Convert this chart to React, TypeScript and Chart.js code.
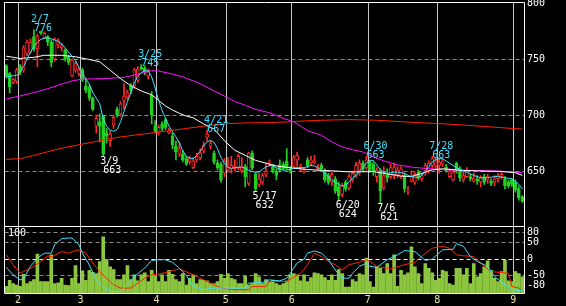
import React, { useEffect, useRef } from 'react';
import { Chart, registerables } from 'chart.js';

Chart.register(...registerables);

// ---- categories: trading days (M/D) ----
const DATES: string[] = [
  '1/26', '1/27', '1/28', '1/31',
  '2/1', '2/2', '2/3', '2/4', '2/7', '2/8', '2/9', '2/10', '2/14', '2/15', '2/16', '2/17', '2/18', '2/21', '2/22', '2/24', '2/25', '2/28',
  '3/1', '3/2', '3/3', '3/4', '3/7', '3/8', '3/9', '3/10', '3/11', '3/14', '3/15', '3/16', '3/17', '3/18', '3/22', '3/23', '3/24', '3/25', '3/28', '3/29', '3/30', '3/31',
  '4/1', '4/4', '4/5', '4/6', '4/7', '4/8', '4/11', '4/12', '4/13', '4/14', '4/15', '4/18', '4/19', '4/20', '4/21', '4/22', '4/25', '4/26', '4/27', '4/28',
  '5/2', '5/6', '5/9', '5/10', '5/11', '5/12', '5/13', '5/16', '5/17', '5/18', '5/19', '5/20', '5/23', '5/24', '5/25', '5/26', '5/27', '5/30', '5/31',
  '6/1', '6/2', '6/3', '6/6', '6/7', '6/8', '6/9', '6/10', '6/13', '6/14', '6/15', '6/16', '6/17', '6/20', '6/21', '6/22', '6/23', '6/24', '6/27', '6/28', '6/29', '6/30',
  '7/1', '7/4', '7/5', '7/6', '7/7', '7/8', '7/11', '7/12', '7/13', '7/14', '7/15', '7/19', '7/20', '7/21', '7/22', '7/25', '7/26', '7/27', '7/28', '7/29',
  '8/1', '8/2', '8/3', '8/4', '8/5', '8/8', '8/9', '8/10', '8/12', '8/15', '8/16', '8/17', '8/18', '8/19', '8/22', '8/23', '8/24', '8/25', '8/26', '8/29', '8/30', '8/31',
  '9/1', '9/2', '9/5',
];

// ---- OHLC ----
const OPEN: number[] = [
  744, 737, 729, 730, 744, 740, 755, 756, 770, 759,
  775, 769, 770, 765, 750, 763, 760, 758, 752, 735,
  740, 737, 740, 726, 725, 715, 690, 694, 699, 684,
  677, 691, 705, 701, 713, 716, 726, 726, 731, 743,
  742, 735, 718, 690, 684, 692, 696, 684, 681, 672,
  665, 665, 661, 658, 653, 660, 662, 668, 680, 672,
  666, 657, 656, 648, 651, 652, 652, 653, 650, 654,
  639, 666, 647, 638, 640, 647, 657, 654, 650, 655,
  656, 659, 652, 654, 660, 652, 650, 660, 657, 657,
  652, 655, 650, 646, 640, 643, 636, 629, 640, 635,
  642, 646, 650, 657, 653, 658, 656, 645, 650, 635,
  647, 645, 646, 647, 645, 646, 632, 641, 640, 649,
  643, 648, 650, 655, 654, 655, 656, 654, 645, 642,
  657, 652, 642, 645, 645, 641, 643, 640, 645, 642,
  641, 640, 643, 645, 643, 640, 642, 640, 634, 627,
];
const HIGH: number[] = [
  745, 738, 733, 742, 745, 762, 767, 768, 776, 772,
  775, 774, 771, 767, 769, 768, 764, 759, 753, 750,
  748, 742, 742, 733, 727, 716, 700, 701, 700, 688,
  686, 700, 707, 712, 728, 722, 728, 742, 743, 745,
  744, 741, 721, 695, 691, 694, 697, 688, 684, 677,
  676, 668, 663, 663, 662, 666, 670, 676, 686.5, 677,
  668, 660, 658, 661, 662, 663, 660, 665, 662, 656,
  667, 668, 649, 648, 648, 657, 660, 656, 652, 660,
  658, 670, 654, 664, 667, 656, 653, 662, 663, 664,
  656, 657, 652, 648, 649, 645, 640, 639, 642, 647,
  650, 658, 660, 659, 663, 660, 658, 653, 652, 654,
  652, 656, 657, 654, 654, 648, 636, 650, 649, 651,
  648, 657, 659, 663, 662, 662, 661, 656, 652, 651,
  658, 654, 649, 653, 647, 648, 646, 646, 647, 647,
  643, 646, 648, 650, 645, 642, 643, 642, 636, 628,
];
const LOW: number[] = [
  733, 720, 728, 728, 736, 738, 753, 755, 757, 743,
  772, 768, 762, 743, 748, 760, 757, 748, 745, 734,
  738, 735, 730, 720, 713, 704, 684, 676, 663, 675,
  672, 688, 698, 699, 705, 714, 719, 724, 729, 740,
  736, 732, 692, 684, 682, 686, 687, 683, 670, 660,
  663, 658, 655, 656, 652, 658, 660, 666, 677, 670,
  656, 651, 640, 645, 649, 648, 650, 651, 648, 636,
  637, 651, 632, 636, 638, 645, 654, 648, 642, 649,
  651, 651, 648, 652, 654, 650, 648, 653, 655, 656,
  650, 650, 640, 638, 637, 630, 624, 627, 632, 633,
  640, 644, 646, 650, 651, 649, 646, 640, 621, 633,
  640, 643, 643, 644, 643, 631, 629, 640, 638, 642,
  641, 646, 648, 652, 652, 648, 654, 649, 644, 641,
  648, 641, 640, 644, 641, 640, 638, 636, 638, 639,
  637, 637, 640, 643, 634, 635, 636, 631, 624, 622,
];
const CLOSE: number[] = [
  735, 725, 732, 740, 738, 760, 765, 765, 759, 770,
  773, 773, 765, 747, 768, 766, 762, 750, 747, 749,
  746, 740, 731, 722, 715, 705, 697, 690, 665, 681,
  683, 698, 700, 710, 717, 720, 722, 740, 741, 741,
  738, 740, 700, 686, 689, 688, 689, 686, 673, 667,
  670, 660, 656, 661, 659, 663, 666, 673, 683, 675,
  658, 653, 642, 659, 654, 655, 654, 663, 654, 645,
  666, 653, 634, 643, 646, 650, 658, 650, 646, 651,
  652, 653, 650, 662, 664, 654, 651, 655, 660, 659,
  654, 652, 642, 640, 647, 632, 628, 637, 634, 645,
  648, 655, 657, 652, 660, 651, 650, 651, 632, 646,
  644, 653, 653, 651, 652, 634, 633, 646, 647, 644,
  646, 655, 657, 661, 659, 658, 659, 650, 650, 649,
  651, 644, 646, 650, 643, 644, 641, 644, 640, 645,
  639, 643, 646, 647, 637, 637, 638, 633, 626, 623,
];

// ---- moving averages ----
const MA_SHORT: number[] = [
  734, 734.5, 735, 735.4, 738.5, 743, 750, 756, 761, 765,
  767.5, 768.5, 769, 768, 767, 765.5, 763.5, 760, 756, 752.5,
  748.5, 742.5, 737.5, 732, 727.5, 720, 715, 710, 696.5, 690,
  686.5, 685.5, 687, 694, 703, 712, 720, 729, 734.5, 738,
  739.5, 739.5, 734, 724, 713, 704, 697, 690, 685, 680.5,
  675, 668, 663, 661.5, 661, 664, 667.5, 672.5, 676, 677.4,
  675.5, 670, 662, 657, 653, 652.5, 653, 653.3, 653.5, 652.5,
  650.6, 649.5, 649, 649, 651.5, 653.5, 655, 654.5, 653, 651.5,
  650.6, 651, 651.5, 652.5, 653, 653, 653, 654, 655, 654.5,
  653, 650.6, 648, 645, 642, 640, 638, 636.5, 637.5, 640,
  643.5, 646.5, 650, 653, 657, 659, 659.5, 655.5, 651, 649,
  647.6, 648.5, 649, 649, 648.5, 648, 646, 645, 644.5, 644,
  646, 650, 654, 658, 660.5, 661, 661, 659, 657, 655,
  653, 651.5, 650, 649, 647.5, 646, 645, 644, 644, 644,
  644.5, 645, 645, 644.5, 644, 643.5, 643, 641, 638, 634,
];
// [day index, value]
const MA_MID: [number, number][] = [
  [0, 752.5], [4, 750.5], [8, 751.5], [11, 753.3], [16, 753.3], [20, 752], [24, 749.5], [27, 747.5],
  [30, 740], [33, 732.5], [36, 726], [39, 721.5], [42, 718], [44, 713], [46, 708], [48, 704.5],
  [50, 701.5], [52, 699], [54, 697.5], [57, 692], [60, 687.5], [63, 677], [66, 668.5], [69, 664],
  [72, 659.5], [75, 657], [78, 654.5], [83, 652.5], [87, 651.3], [91, 650.6], [95, 650], [99, 649.2],
  [103, 649.3], [106, 649.5], [110, 647.5], [114, 645.5], [117, 645], [120, 648], [123, 651], [126, 652],
  [131, 650.6], [137, 650], [143, 649.5], [147, 648.5], [149, 646],
];
const MA_LONG: [number, number][] = [
  [0, 714.3], [4, 717], [8, 720], [12, 723.5], [16, 727.5], [19, 730.5], [22, 732], [28, 732.5],
  [34, 733.5], [38, 736.5], [42, 739.5], [44, 739.3], [48, 736.5], [51, 734], [56, 728], [60, 721.5],
  [63, 717], [66, 712], [69, 708.7], [72, 705], [76, 702], [80, 697], [83, 694], [87, 686],
  [91, 682], [94, 676], [97, 671.5], [100, 669], [103, 667], [106, 662.5], [109, 659], [113, 655.5],
  [117, 653.5], [122, 652], [127, 651], [136, 650.5], [142, 650], [149, 648.5],
];
const MA_200: [number, number][] = [
  [0, 660.4], [4, 661], [8, 664], [13, 668], [17, 671], [22, 674], [27, 677], [32, 680],
  [37, 682], [42, 684], [46, 685.5], [53, 688.4], [59, 690.8], [64, 692.3], [70, 693], [76, 693.2],
  [81, 693.8], [86, 694.7], [91, 695.3], [99, 695.9], [107, 695.3], [117, 693.5], [127, 692], [136, 690.2],
  [146, 688], [149, 687.5],
];

// ---- lower panel ----
const VOLUME: number[] = [
  10, 19, 14, 12, 10, 28, 14, 17, 20, 58,
  17, 17, 17, 57, 14, 15, 22, 12, 11, 22,
  41, 14, 33, 19, 34, 31, 29, 47, 84, 50,
  39, 35, 20, 20, 27, 41, 20, 27, 18, 27,
  30, 17, 34, 25, 17, 27, 17, 34, 28, 20,
  17, 29, 12, 22, 27, 14, 20, 19, 18, 14,
  14, 17, 28, 22, 29, 22, 20, 14, 14, 25,
  12, 14, 29, 24, 14, 20, 17, 19, 14, 12,
  14, 18, 27, 29, 27, 18, 27, 17, 23, 30,
  29, 27, 23, 19, 27, 19, 35, 29, 9, 9,
  20, 17, 29, 27, 52, 17, 9, 39, 37, 29,
  44, 29, 57, 10, 34, 27, 30, 69, 39, 29,
  14, 44, 37, 30, 19, 22, 34, 32, 14, 12,
  37, 37, 27, 37, 14, 44, 24, 29, 39, 48,
  34, 22, 17, 32, 49, 18, 17, 32, 29, 24,
];
const OSC_CYAN: [number, number][] = [
  [0, -25], [2, -48], [4, -63], [5, -60], [7, -22], [9, 3], [11, 18], [13, 18], [14, 44], [16, 62],
  [18, 64], [19, 64], [21, 44], [22, 18], [24, -18], [26, -63], [28, -83], [30, -98], [33, -98], [35, -78],
  [37, -53], [40, -27], [42, -4], [44, -2], [46, -2], [48, -10], [50, -27], [52, -50], [54, -83], [57, -93],
  [60, -88], [63, -88], [66, -88], [69, -88], [70, -73], [74, -71], [76, -63], [79, -66], [81, -58], [82, -43],
  [84, -12], [86, 0], [87, 18], [89, 25], [91, 18], [93, -2], [95, -33], [97, -58], [99, -58], [100, -43],
  [102, -22], [104, -12], [105, -22], [107, -25], [110, -2], [113, 13], [115, 26], [118, 23], [121, -4], [123, 0],
  [126, 28], [129, 30], [130, 47], [132, 39], [134, 8], [136, -7], [139, -22], [141, -53], [144, -78], [146, -93],
  [149, -96],
];
const OSC_RED: [number, number][] = [
  [0, 13], [2, -17], [4, -43], [6, -33], [8, -22], [10, -7], [12, 10], [13, 6], [16, 23], [18, 18],
  [20, 26], [21, 28], [23, 18], [25, -12], [27, -38], [29, -58], [31, -78], [33, -88], [36, -88], [38, -73],
  [40, -58], [42, -48], [44, -45], [46, -41], [48, -35], [50, -30], [53, -43], [56, -58], [59, -73], [62, -88],
  [66, -93], [70, -93], [71, -83], [75, -83], [76, -68], [81, -68], [83, -55], [85, -43], [87, -17], [89, 18],
  [91, 8], [93, -7], [95, -17], [97, -33], [99, -17], [101, -12], [104, -2], [105, -7], [107, -22], [111, -30],
  [115, -17], [118, -10], [121, 18], [123, 33], [126, 39], [128, 33], [130, 13], [132, 10], [135, 8], [136, -2],
  [138, -22], [140, -38], [143, -41], [145, -43], [146, -83], [148, -88], [149, -97],
];

const PRICE_TICKS = [650, 700, 750, 800];
const OSC_TICKS = [80, 50, 0, -50, -80];
const VOLUME_LABEL = '100';

// high / low annotations
const MARKS: { date: string; text: string; kind: 'high' | 'low' }[] = [
  { date: '2/7', text: '776', kind: 'high' },
  { date: '3/9', text: '663', kind: 'low' },
  { date: '3/25', text: '745', kind: 'high' },
  { date: '4/21', text: '667', kind: 'high' },
  { date: '5/17', text: '632', kind: 'low' },
  { date: '6/20', text: '624', kind: 'low' },
  { date: '6/30', text: '663', kind: 'high' },
  { date: '7/6', text: '621', kind: 'low' },
  { date: '7/28', text: '663', kind: 'high' },
];

// ---- styles ----
const FONT = 'DejaVu Sans Mono';
const UP = '#ff2a2a';
const DOWN = '#22d022';
const C_CYAN = '#3fe0ff';
const C_MAG = '#ff10ff';
const C_RED = '#ff2200';
const GRID_V = '#c4c4c4';
const GRID_H = '#8c8c8c';
const VOL = '#8cc63e';
const XLABEL = '#e8e6a0';

const monthOf = (d: string) => d.split('/')[0];
const isMonthStart = (i: number) => i > 0 && i < DATES.length && monthOf(DATES[i]) !== monthOf(DATES[i - 1]);
const pts = (arr: [number, number][]) => arr.map(([i, v]) => ({ x: DATES[i], y: v }));

const framePlugin = (withBottom: boolean, topOffset: number) => ({
  id: 'frame',
  afterDraw(chart: any) {
    const { ctx, chartArea: a } = chart;
    const L = Math.floor(a.left) + 0.5;
    const R = Math.floor(a.right) + 0.5;
    const T = Math.floor(a.top) + topOffset;
    const B = Math.floor(a.bottom) + 0.5;
    ctx.save();
    ctx.strokeStyle = '#ffffff';
    ctx.lineWidth = 1;
    ctx.beginPath();
    ctx.moveTo(L, withBottom ? B : a.bottom + 2);
    ctx.lineTo(L, T);
    ctx.lineTo(R, T);
    ctx.lineTo(R, withBottom ? B : a.bottom + 2);
    if (withBottom) ctx.lineTo(L, B);
    ctx.stroke();
    ctx.restore();
  },
});

const marksPlugin = {
  id: 'marks',
  afterDatasetsDraw(chart: any) {
    const { ctx, scales } = chart;
    const xs = scales.x;
    const ys = scales.y;
    ctx.save();
    ctx.font = `10px "${FONT}"`;
    ctx.textAlign = 'left';
    ctx.textBaseline = 'alphabetic';
    MARKS.forEach((m) => {
      const i = DATES.indexOf(m.date);
      if (i < 0) return;
      const x = xs.getPixelForValue(i);
      if (m.kind === 'high') {
        const y = ys.getPixelForValue(HIGH[i]);
        ctx.fillStyle = C_CYAN;
        ctx.fillText(m.date, x - 3, y - 7.5);
        ctx.fillText(m.text, x, y + 1.5);
      } else {
        const y = ys.getPixelForValue(LOW[i]);
        ctx.fillStyle = '#ffffff';
        ctx.fillText(m.date, x - 3, y + 7.5);
        ctx.fillText(m.text, x, y + 16.8);
      }
    });
    ctx.restore();
  },
};

const volLabelPlugin = {
  id: 'volLabel',
  afterDraw(chart: any) {
    const { ctx, chartArea: a } = chart;
    ctx.save();
    ctx.font = `10px "${FONT}"`;
    ctx.fillStyle = '#ffffff';
    ctx.textBaseline = 'alphabetic';
    ctx.textAlign = 'left';
    ctx.fillText(VOLUME_LABEL, a.left + 3.5, a.top + 9.5);
    ctx.restore();
  },
};

export default function App() {
  const topRef = useRef<HTMLCanvasElement>(null);
  const botRef = useRef<HTMLCanvasElement>(null);

  useEffect(() => {
    document.body.style.margin = '0';
    document.body.style.background = '#000';
    const up = (i: number) => CLOSE[i] >= OPEN[i];
    const candleColor = DATES.map((_, i) => (up(i) ? UP : DOWN));
    const bodyFill = DATES.map((_, i) => (up(i) ? '#000000' : DOWN));
    const tickFont = { family: FONT, size: 10 };

    const lineDs = (data: any, color: string, order: number, axis = 'y') => ({
      type: 'line' as const,
      data,
      yAxisID: axis,
      borderColor: color,
      borderWidth: 1,
      pointRadius: 0,
      tension: 0,
      fill: false,
      order,
    });

    const top = new Chart(topRef.current!, {
      type: 'bar',
      data: {
        labels: DATES,
        datasets: [
          {
            type: 'bar',
            data: DATES.map((_, i) => [LOW[i], HIGH[i]]) as any,
            backgroundColor: candleColor,
            borderWidth: 0,
            barThickness: 1,
            grouped: false,
            order: 10,
          },
          {
            type: 'bar',
            data: DATES.map((_, i) => [OPEN[i], CLOSE[i]]) as any,
            backgroundColor: bodyFill,
            borderColor: candleColor,
            borderWidth: 1,
            borderSkipped: false,
            barThickness: 3,
            minBarLength: 1,
            grouped: false,
            order: 9,
          },
          lineDs(pts(MA_200), C_RED, 4) as any,
          lineDs(pts(MA_LONG), C_MAG, 3) as any,
          lineDs(pts(MA_MID), '#ffffff', 2) as any,
          lineDs(MA_SHORT, C_CYAN, 1) as any,
        ],
      },
      options: {
        responsive: false,
        animation: false,
        events: [],
        layout: { padding: { left: 4.5, right: 0, top: 10, bottom: 10 } },
        plugins: { legend: { display: false }, tooltip: { enabled: false } },
        scales: {
          x: {
            type: 'category',
            offset: true,
            grid: {
              offset: true,
              drawTicks: false,
              lineWidth: 1,
              color: (c: any) => (isMonthStart(c.index) ? GRID_V : 'transparent'),
            },
            border: { display: false },
            ticks: { display: false, autoSkip: false },
            afterFit: (s: any) => { s.height = 0; },
          },
          y: {
            position: 'right',
            min: 600,
            max: 800,
            afterBuildTicks: (s: any) => { s.ticks = PRICE_TICKS.map((v) => ({ value: v })); },
            grid: {
              drawTicks: false,
              color: (c: any) => (c.tick && c.tick.value === 800 ? 'transparent' : GRID_H),
            },
            border: { display: false, dash: [4, 3] },
            ticks: { color: '#ffffff', font: tickFont, padding: 3 },
            afterFit: (s: any) => { s.width = 42; },
          },
        },
      } as any,
      plugins: [marksPlugin, framePlugin(false, -0.5)],
    });

    const bot = new Chart(botRef.current!, {
      type: 'bar',
      data: {
        labels: DATES,
        datasets: [
          {
            type: 'bar',
            data: VOLUME,
            yAxisID: 'yv',
            backgroundColor: VOL,
            barThickness: 3,
            order: 10,
          },
          lineDs(pts(OSC_RED), C_RED, 2, 'yo') as any,
          lineDs(pts(OSC_CYAN), C_CYAN, 1, 'yo') as any,
        ],
      },
      options: {
        responsive: false,
        animation: false,
        events: [],
        layout: { padding: { left: 4.5, right: 0, top: 10, bottom: 0 } },
        plugins: { legend: { display: false }, tooltip: { enabled: false } },
        scales: {
          x: {
            type: 'category',
            offset: true,
            grid: {
              offset: true,
              drawTicks: false,
              lineWidth: 1,
              color: (c: any) => (isMonthStart(c.index) ? GRID_V : 'transparent'),
            },
            border: { display: false },
            ticks: {
              autoSkip: false,
              maxRotation: 0,
              minRotation: 0,
              padding: 1,
              labelOffset: -2,
              color: XLABEL,
              font: tickFont,
              callback: (_v: any, i: number) => (isMonthStart(i) ? monthOf(DATES[i]) : ''),
            },
            afterFit: (s: any) => { s.height = 13; },
          },
          yo: {
            position: 'right',
            min: -103,
            max: 100.6,
            afterBuildTicks: (s: any) => { s.ticks = OSC_TICKS.map((v) => ({ value: v })); },
            grid: {
              drawTicks: false,
              color: (c: any) => {
                const v = c.tick ? c.tick.value : null;
                if (v === 0) return '#ffffff';
                if (v === -80) return 'transparent';
                return GRID_H;
              },
            },
            border: { display: false, dash: [4, 3] },
            ticks: { color: '#ffffff', font: tickFont, padding: 3 },
            afterFit: (s: any) => { s.width = 42; },
          },
          yv: { display: false, min: 0, max: 100 },
        },
      } as any,
      plugins: [framePlugin(true, 0.5), volLabelPlugin],
    });

    return () => {
      top.destroy();
      bot.destroy();
    };
  }, []);

  return (
    <div style={{ position: 'fixed', left: 0, top: 0, width: 566, height: 306, background: '#000', overflow: 'hidden' }}>
      <canvas ref={topRef} width={566} height={244} style={{ position: 'absolute', left: 0, top: -7, width: 566, height: 244 }} />
      <canvas ref={botRef} width={566} height={90} style={{ position: 'absolute', left: 0, top: 216, width: 566, height: 90 }} />
    </div>
  );
}
